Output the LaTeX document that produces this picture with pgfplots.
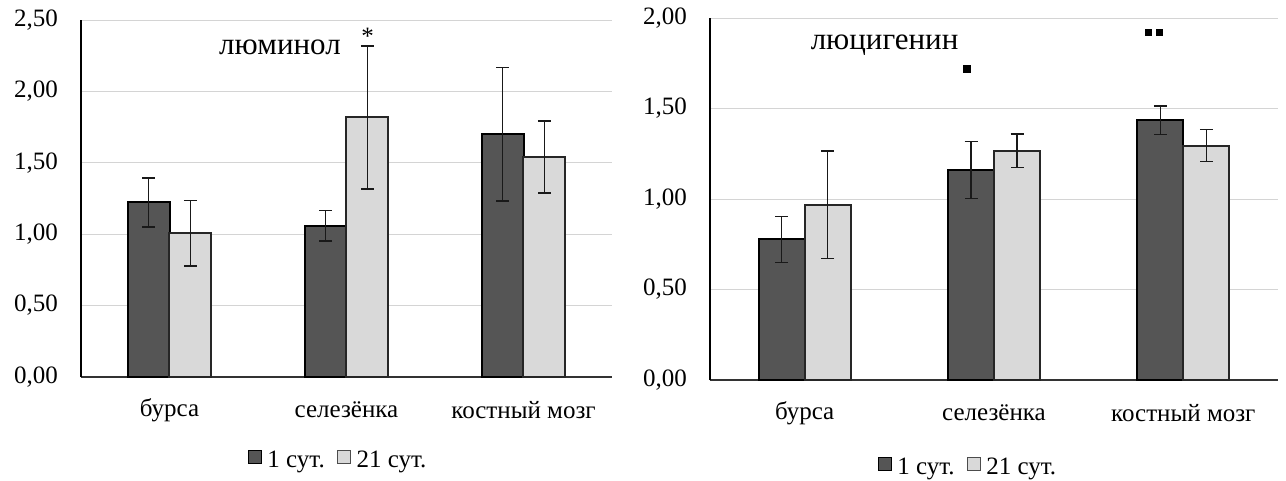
\documentclass[border=0pt]{standalone}
\usepackage{fontspec}
\setmainfont{Liberation Serif}
\usepackage{pgfplots}
\pgfplotsset{compat=1.18}
\definecolor{darkbar}{HTML}{555555}
\definecolor{lightbar}{HTML}{D9D9D9}
\definecolor{gridc}{HTML}{D4D4D4}
\pgfplotsset{
  mychart/.style={
    scale only axis, anchor=south west,
    xmin=-0.5, xmax=2.5, xtick={0,1,2},
    xticklabels={бурса,селезёнка,костный мозг},
    axis x line=bottom, axis y line=left,
    x axis line style={-, line width=1.5pt, color=black!80},
    y axis line style={-, line width=1.2pt, color=black},
    major tick length=0pt,
    ymajorgrids, grid style={gridc, line width=0.9pt},
    tick label style={font=\fontsize{25}{30}\selectfont},
    yticklabel style={anchor=east, inner sep=0pt, xshift=-23pt,
      /pgf/number format/.cd, fixed, fixed zerofill, precision=2, use comma, assume math mode=true},
    xticklabel style={anchor=center, inner sep=0pt, yshift=-33pt},
    legend columns=2,
    legend style={draw=none, fill=none, font=\fontsize{25}{30}\selectfont, anchor=center,
      /tikz/every odd column/.append style={column sep=4pt},
      /tikz/every even column/.append style={column sep=10pt}},
    clip=false,
  },
  errs/.style={error bars/.cd, y dir=both, y explicit,
    error bar style={line width=1.5pt, black!90},
    error mark options={rotate=90, mark size=6.5pt, line width=1.5pt, black!90}},
  darkleg/.style={legend image code/.code={\draw[fill=darkbar, draw=black, line width=0.8pt] (0pt,-4pt) rectangle (13pt,9pt);}},
  lightleg/.style={legend image code/.code={\draw[fill=lightbar, draw=black!70, line width=0.8pt] (0pt,-4pt) rectangle (13pt,9pt);}},
}
\begin{document}
\begin{tikzpicture}
\useasboundingbox (0pt,0pt) rectangle (1286pt,-481pt);
% ---------- left: luminol ----------
\begin{axis}[mychart,
  at={(81pt,-377pt)}, width=531pt, height=357pt,
  ymin=0, ymax=2.5, ytick={0,0.5,1,1.5,2,2.5},
  legend style={at={(0.484,-0.232)}},
]
\addplot[ybar, bar width=42pt, bar shift=0pt, fill=darkbar, draw=black, line width=2pt, darkleg, errs]
  coordinates {(-0.1186,1.223) +- (0,0.172) (0.8814,1.060) +- (0,0.106) (1.8814,1.701) +- (0,0.468)};
\addlegendentry{1 сут.}
\addplot[ybar, bar width=42pt, bar shift=0pt, fill=lightbar, draw=black!85, line width=2pt, lightleg, errs]
  coordinates {(0.1186,1.008) +- (0,0.229) (1.1186,1.818) +- (0,0.500) (2.1186,1.540) +- (0,0.252)};
\addlegendentry{21 сут.}
\node[font=\fontsize{31}{36}\selectfont, inner sep=0pt] at (axis cs:0.624,2.31) {люминол};
\node[font=\fontsize{25}{30}\selectfont, inner sep=0pt] at (axis cs:1.119,2.388) {*};
\end{axis}
% ---------- right: lucigenin ----------
\begin{axis}[mychart,
  at={(710pt,-380pt)}, width=568pt, height=362pt,
  ymin=0, ymax=2, ytick={0,0.5,1,1.5,2},
  legend style={at={(0.454,-0.240)}},
]
\addplot[ybar, bar width=46pt, bar shift=0pt, fill=darkbar, draw=black, line width=2pt, darkleg, errs]
  coordinates {(-0.1215,0.777) +- (0,0.127) (0.8785,1.160) +- (0,0.158) (1.8785,1.436) +- (0,0.079)};
\addlegendentry{1 сут.}
\addplot[ybar, bar width=46pt, bar shift=0pt, fill=lightbar, draw=black!85, line width=2pt, lightleg, errs]
  coordinates {(0.1215,0.969) +- (0,0.297) (1.1215,1.267) +- (0,0.092) (2.1215,1.295) +- (0,0.089)};
\addlegendentry{21 сут.}
\addplot[forget plot, only marks, mark=square*, mark size=3.3pt, black]
  coordinates {(0.856,1.720) (1.815,1.921) (1.872,1.921)};
\node[font=\fontsize{31}{36}\selectfont, inner sep=0pt] at (axis cs:0.422,1.851) {люцигенин};
\end{axis}
\end{tikzpicture}
\end{document}
